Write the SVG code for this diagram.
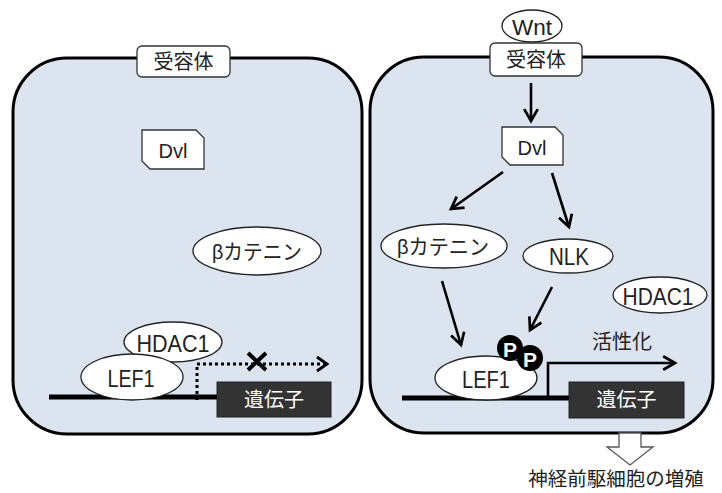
<svg xmlns="http://www.w3.org/2000/svg" width="722" height="493" viewBox="0 0 722 493">
<defs>
<style>
.cell{fill:#dbe4ef;stroke:#000;stroke-width:3}
.box{fill:#fff;stroke:#333;stroke-width:1.3}
.ell{fill:#fff;stroke:#222;stroke-width:1.3}
.t{font-family:"Liberation Sans","Noto Sans CJK JP",sans-serif;fill:#222;text-anchor:middle;dominant-baseline:central}
.gene{fill:#333;stroke:#222;stroke-width:1}
.gt{fill:#fff;font-size:20px}
.dna{stroke:#000;stroke-width:5;fill:none}
.arr{stroke:#000;stroke-width:2.6;fill:none;marker-end:url(#ah)}
.pt{fill:#fff;font-size:21px;font-weight:bold}
</style>
<marker id="ah" viewBox="0 0 10 10" refX="8" refY="5" markerWidth="6.5" markerHeight="6.5" orient="auto" markerUnits="strokeWidth">
<path d="M1,1 L8,5 L1,9" fill="none" stroke="#000" stroke-width="1.6"/>
</marker>
</defs>
<rect width="722" height="493" fill="#fff"/>

<g id="cell-left">
<rect class="cell" x="13" y="58" width="349" height="376" rx="54"/>
</g>
<g id="cell-right">
<rect class="cell" x="370" y="57" width="343" height="376" rx="54"/>
</g>

<g id="connectors">
<line class="arr" x1="531" y1="83" x2="531" y2="121"/>
<line class="arr" x1="503" y1="172" x2="451" y2="209"/>
<line class="arr" x1="552" y1="173" x2="569" y2="227"/>
<line class="arr" x1="442" y1="281" x2="461" y2="345"/>
<line class="arr" x1="552" y1="287" x2="530" y2="330"/>
<path d="M548,398 V363 H675" class="arr"/>
<path d="M197,400 V364 H324" fill="none" stroke="#000" stroke-width="3" stroke-dasharray="3,3"/>
<path d="M317,357 L327,364 L317,371" fill="none" stroke="#000" stroke-width="2.8"/>
<path d="M248,353 L266,370 M266,353 L248,370" stroke="#000" stroke-width="4"/>
<path d="M619,433 H641 V447 H653 L630,465 L607,447 H619 Z" fill="#fff" stroke="#555" stroke-width="1.3"/>
</g>

<g id="dna-left"><line class="dna" x1="49" y1="397" x2="220" y2="397"/></g>
<g id="dna-right"><line class="dna" x1="402" y1="398" x2="572" y2="398"/></g>

<g id="receptor-left">
<rect class="box" x="137" y="46" width="93" height="31" rx="5"/>
<text class="t" x="183.5" y="62" font-size="20">受容体</text>
</g>
<g id="dvl-left">
<path class="box" d="M142,130 H196 L204,138 V169 H150 L142,161 Z"/>
<text class="t" x="173" y="150" font-size="21" textLength="29" lengthAdjust="spacingAndGlyphs">Dvl</text>
</g>
<g id="bcat-left">
<ellipse class="ell" cx="257" cy="251" rx="64" ry="24"/>
<text class="t" x="257" y="251" font-size="21" textLength="90" lengthAdjust="spacingAndGlyphs">βカテニン</text>
</g>
<g id="hdac1-left">
<ellipse class="ell" cx="173" cy="342" rx="49" ry="20"/>
<text class="t" x="173" y="343" font-size="24" textLength="73" lengthAdjust="spacingAndGlyphs">HDAC1</text>
</g>
<g id="lef1-left">
<ellipse class="ell" cx="132" cy="377" rx="51" ry="23"/>
<text class="t" x="131" y="378" font-size="24" textLength="47" lengthAdjust="spacingAndGlyphs">LEF1</text>
</g>
<g id="gene-left">
<rect class="gene" x="217" y="382" width="114" height="35"/>
<text class="t gt" x="274" y="400">遺伝子</text>
</g>

<g id="wnt">
<ellipse class="ell" cx="532" cy="26" rx="30" ry="16"/>
<text class="t" x="532" y="27" font-size="22" textLength="40" lengthAdjust="spacingAndGlyphs">Wnt</text>
</g>
<g id="receptor-right">
<rect class="box" x="490" y="43" width="92" height="33" rx="5"/>
<text class="t" x="536" y="60" font-size="20">受容体</text>
</g>
<g id="dvl-right">
<path class="box" d="M502,127 H555 L563,135 V165 H510 L502,157 Z"/>
<text class="t" x="532" y="147" font-size="21" textLength="29" lengthAdjust="spacingAndGlyphs">Dvl</text>
</g>
<g id="bcat-right">
<ellipse class="ell" cx="444" cy="246" rx="63" ry="22"/>
<text class="t" x="443" y="246" font-size="21" textLength="92" lengthAdjust="spacingAndGlyphs">βカテニン</text>
</g>
<g id="nlk">
<ellipse class="ell" cx="568" cy="256" rx="45" ry="17"/>
<text class="t" x="569" y="257" font-size="23" textLength="40" lengthAdjust="spacingAndGlyphs">NLK</text>
</g>
<g id="hdac1-right">
<ellipse class="ell" cx="660" cy="295" rx="47" ry="18"/>
<text class="t" x="658" y="296" font-size="24" textLength="71" lengthAdjust="spacingAndGlyphs">HDAC1</text>
</g>
<g id="lef1-right">
<ellipse class="ell" cx="486" cy="378" rx="51" ry="22"/>
<text class="t" x="486" y="379" font-size="24" textLength="48" lengthAdjust="spacingAndGlyphs">LEF1</text>
</g>
<g id="p1">
<circle cx="510" cy="348" r="13" fill="#000"/>
<text class="t pt" x="510" y="349">P</text>
</g>
<g id="p2">
<circle cx="530" cy="358" r="13" fill="#000"/>
<text class="t pt" x="530" y="359">P</text>
</g>
<g id="activation-label">
<text class="t" x="622" y="342" font-size="20">活性化</text>
</g>
<g id="gene-right">
<rect class="gene" x="569" y="382" width="115" height="36"/>
<text class="t gt" x="626.5" y="400">遺伝子</text>
</g>
<g id="result">
<text class="t" x="616" y="479" font-size="19.5">神経前駆細胞の増殖</text>
</g>
</svg>
